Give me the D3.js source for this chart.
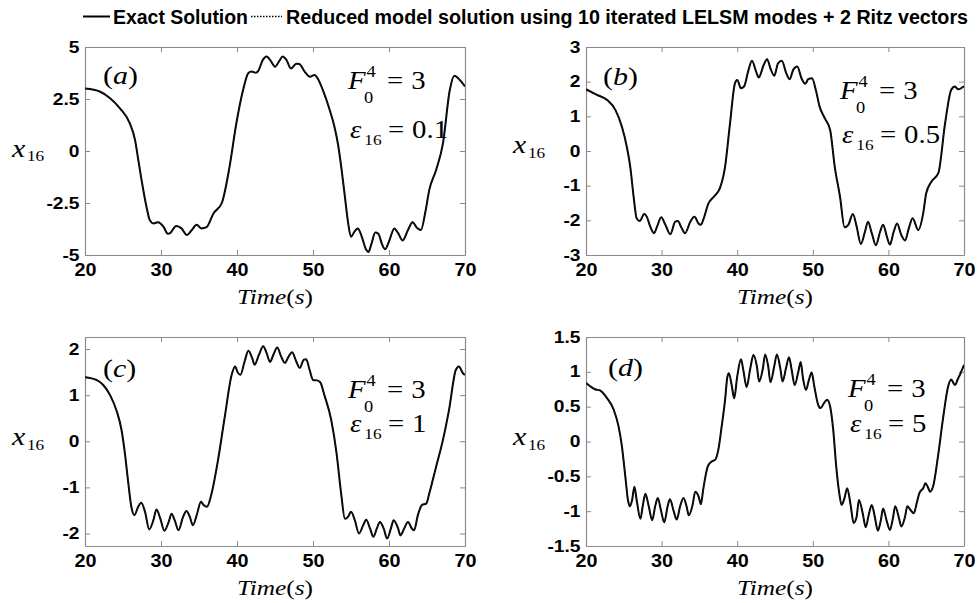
<!DOCTYPE html>
<html>
<head>
<meta charset="utf-8">
<script src="https://cdn.jsdelivr.net/npm/d3@7"></script>
<style>
  body { margin: 0; background: #fff; }
  svg { display: block; }
</style>
</head>
<body>
<svg id="chart" width="977" height="603"></svg>
<script>
// Values: [time (s), x16]
const panelA = [[20,3.0],[22,2.85],[23.3,2.54],[24.6,2.05],[25.9,1.33],[26.6,0.5],[27,-0.4],[27.4,-1.3],[28.1,-2.7],[28.5,-3.3],[29,-3.48],
  [29.6,-3.42],[30.3,-3.62],[30.9,-3.98],[31.2,-3.95],[32,-3.6],[32.7,-3.72],[33.4,-4.04],[34,-3.82],[34.7,-3.55],[35.3,-3.72],[36,-3.66],
  [36.9,-3.0],[38,-2.5],[39,-0.8],[39.9,1.3],[40.8,2.93],[41.5,3.75],[41.9,3.82],[42.5,3.76],[42.8,3.85],[43.4,4.38],[43.9,4.54],[44.5,4.3],
  [45,4.05],[45.6,4.35],[46,4.54],[46.5,4.38],[47.1,3.97],[47.8,4.2],[48.2,4.18],[48.9,3.82],[49.6,3.57],[50.2,3.65],[50.6,3.5],[51.3,2.93],
  [52.2,1.97],[52.8,1.2],[53.3,0.3],[53.8,-1.0],[54.2,-2.2],[54.6,-3.4],[55,-4.12],[55.5,-3.85],[55.9,-3.72],[56.4,-4.1],[57,-4.75],[57.3,-4.85],
  [57.7,-4.45],[58.2,-3.92],[58.6,-3.98],[59.1,-4.5],[59.5,-4.72],[60,-4.35],[60.7,-3.72],[61.2,-3.95],[61.8,-4.3],[62.5,-3.8],[63.1,-3.42],
  [63.7,-3.7],[64.2,-3.8],[64.8,-2.9],[65.3,-1.87],[66.2,-0.91],[67.1,0.37],[68,2.93],[68.6,3.62],[69.1,3.5],[70,3.1]];

const panelB = [[20,1.78],[21.45,1.62],[22.8,1.47],[23.9,1.18],[24.75,0.7],[25.4,0.12],[25.85,-0.45],[26.3,-1.32],[26.7,-1.94],[27.1,-2.02],
  [27.7,-1.82],[28.05,-1.9],[28.5,-2.18],[29,-2.37],[29.4,-2.18],[29.95,-1.91],[30.5,-2.13],[31.15,-2.4],[31.8,-2.04],[32.15,-2.02],[32.6,-2.2],
  [33.1,-2.37],[33.8,-2.04],[34.35,-1.9],[34.9,-2.1],[35.2,-2.13],[35.5,-1.99],[36.2,-1.51],[36.9,-1.32],[37.7,-1.08],[38.4,-0.45],[39.05,0.8],
  [39.7,1.95],[40,2.05],[40.5,1.81],[40.9,1.86],[41.5,2.34],[41.95,2.6],[42.5,2.29],[42.85,2.12],[43.5,2.48],[43.95,2.65],[44.4,2.38],[44.9,2.17],
  [45.4,2.53],[45.9,2.6],[46.5,2.24],[46.95,2.07],[47.4,2.34],[47.95,2.44],[48.5,2.1],[49,1.94],[49.4,2.07],[49.9,2.1],[50.4,1.76],[50.9,1.28],
  [51.6,0.94],[52.3,0.6],[52.9,-0.45],[53.6,-1.32],[54.2,-2.2],[54.7,-2.13],[55.3,-1.82],[55.8,-2.18],[56.35,-2.68],[56.9,-2.33],[57.3,-2.04],
  [57.8,-2.37],[58.35,-2.72],[58.9,-2.33],[59.3,-2.13],[59.8,-2.47],[60.2,-2.7],[60.7,-2.33],[61.15,-2.09],[61.7,-2.42],[62.2,-2.58],[62.7,-2.23],
  [63.2,-1.94],[63.95,-2.28],[64.6,-1.8],[65,-1.22],[65.7,-0.88],[66.6,-0.64],[67.5,0.8],[68.3,1.76],[68.8,1.86],[69.2,1.78],[70,1.87]];

const panelC = [[20,1.39],[21.5,1.33],[22.4,1.22],[23.3,1.0],[24.2,0.64],[24.8,0.25],[25.25,-0.26],[25.7,-0.91],[26.1,-1.42],[26.5,-1.6],
  [27,-1.42],[27.4,-1.33],[27.9,-1.53],[28.45,-1.91],[29,-1.71],[29.4,-1.48],[29.9,-1.67],[30.45,-1.94],[31,-1.75],[31.4,-1.57],[31.8,-1.71],
  [32.3,-1.93],[32.9,-1.64],[33.35,-1.51],[33.8,-1.64],[34.2,-1.82],[34.75,-1.57],[35.25,-1.31],[35.6,-1.38],[36.05,-1.42],[36.6,-1.17],
  [37.5,-0.41],[38.4,0.54],[39.3,1.44],[39.75,1.62],[40.1,1.49],[40.45,1.44],[41,1.73],[41.5,1.96],[42,1.8],[42.3,1.66],[42.9,1.88],[43.45,2.06],
  [43.9,1.91],[44.35,1.72],[44.8,1.88],[45.3,2.03],[45.8,1.84],[46.3,1.7],[46.8,1.84],[47.25,1.93],[47.8,1.73],[48.25,1.59],[48.8,1.77],
  [49.1,1.78],[49.55,1.55],[50,1.33],[50.5,1.32],[50.95,1.28],[51.5,1.0],[52.4,0.46],[53.1,-0.26],[53.7,-1.13],[54.2,-1.68],[54.6,-1.64],
  [55,-1.53],[55.5,-1.71],[56.05,-2.0],[56.6,-1.82],[57,-1.7],[57.5,-1.89],[57.95,-2.07],[58.4,-1.89],[58.8,-1.75],[59.3,-1.89],[59.75,-2.11],
  [60.3,-1.86],[60.6,-1.71],[61.2,-1.89],[61.5,-2.04],[62,-1.89],[62.5,-1.75],[63,-1.89],[63.3,-1.93],[63.8,-1.6],[64.35,-1.38],[64.9,-1.35],
  [65.3,-1.13],[66.2,-0.55],[67.1,0.03],[67.9,0.68],[68.8,1.55],[69.2,1.62],[69.7,1.48],[70,1.44]];

const panelD = [[20,0.84],[20.6,0.79],[21.2,0.75],[21.9,0.73],[22.8,0.62],[23.65,0.46],[24.3,0.22],[24.75,-0.07],[25.2,-0.5],[25.55,-0.84],
  [25.8,-0.93],[26.1,-0.84],[26.4,-0.65],[26.7,-0.84],[27.2,-1.11],[27.5,-0.93],[27.85,-0.75],[28.3,-0.93],[28.75,-1.13],[29.15,-0.93],
  [29.5,-0.81],[29.9,-0.98],[30.35,-1.16],[30.8,-0.93],[31.1,-0.83],[31.6,-1.0],[32,-1.12],[32.45,-0.93],[32.9,-0.81],[33.3,-0.93],[33.6,-1.06],
  [34.1,-0.91],[34.45,-0.72],[34.9,-0.79],[35.2,-0.9],[35.5,-0.69],[36.1,-0.36],[36.6,-0.29],[37.1,-0.26],[37.5,-0.12],[37.95,0.22],[38.4,0.6],
  [38.7,0.93],[38.9,0.98],[39.3,0.79],[39.6,0.62],[40,0.93],[40.5,1.18],[40.8,1.03],[41.25,0.78],[41.7,1.03],[42.15,1.24],[42.6,1.08],[42.9,0.86],
  [43.4,1.05],[43.7,1.25],[44.1,1.08],[44.4,0.85],[44.9,1.08],[45.25,1.25],[45.7,1.05],[46,0.86],[46.45,1.05],[46.85,1.21],[47.2,1.03],[47.6,0.81],
  [48.1,1.01],[48.4,1.14],[48.7,0.91],[49.1,0.74],[49.5,0.89],[49.85,0.99],[50.2,0.79],[50.7,0.53],[51,0.48],[51.6,0.57],[51.9,0.6],[52.3,0.5],
  [52.7,0.17],[53.1,-0.36],[53.5,-0.74],[53.8,-0.91],[54.2,-0.81],[54.55,-0.67],[55,-0.91],[55.4,-1.17],[55.8,-1.08],[56.1,-0.84],[56.6,-1.03],
  [57,-1.23],[57.4,-1.05],[57.8,-0.91],[58.2,-1.08],[58.6,-1.28],[59,-1.13],[59.3,-0.96],[59.75,-1.13],[60.2,-1.27],[60.6,-1.1],[60.9,-0.93],
  [61.4,-1.1],[61.7,-1.22],[62.2,-1.08],[62.5,-0.93],[62.9,-0.98],[63.35,-1.03],[63.8,-0.86],[64.1,-0.74],[64.6,-0.67],[64.9,-0.6],[65.2,-0.65],
  [65.5,-0.72],[65.9,-0.65],[66.55,-0.22],[67.2,0.31],[67.9,0.79],[68.3,0.89],[68.8,0.81],[69.2,0.9],[69.55,0.98],[70,1.1]];

// The reduced model curve lies on top of the exact one everywhere in the figure
const reducedA = panelA, reducedB = panelB, reducedC = panelC, reducedD = panelD;

// Axis ticks and labels
const xTicks = [20, 30, 40, 50, 60, 70];
const yTicksA = [-5, -2.5, 0, 2.5, 5];
const yTicksB = [-3, -2, -1, 0, 1, 2, 3];
const yTicksC = [-2, -1, 0, 1, 2];
const yTicksD = [-1.5, -1, -0.5, 0, 0.5, 1, 1.5];
const yDomains = [[-5, 5], [-3, 3], [-2.27, 2.26], [-1.5, 1.5]];
const letters = ["a", "b", "c", "d"];
const epsValues = ["0.1", "0.5", "1", "5"];
const forceValue = "3";
const legendLabels = ["Exact Solution", "Reduced model solution using 10 iterated LELSM modes + 2 Ritz vectors"];

const serif = "'Liberation Serif', 'Times New Roman', serif";
const sans = "'Liberation Sans', Arial, sans-serif";
const boxColor = "#8a8a8a";
const stretch = 1.15;   // the figure is a bit wider than tall

const svg = d3.select("#chart");

// Legend
const legend = svg.append("g");
legend.append("line").attr("x1", 83).attr("x2", 110).attr("y1", 16.5).attr("y2", 16.5)
    .attr("stroke", "#000").attr("stroke-width", 2);
legend.append("text").attr("x", 113).attr("y", 24)
    .attr("font-family", sans).attr("font-weight", "bold").attr("font-size", 19.5)
    .attr("textLength", 135).attr("lengthAdjust", "spacingAndGlyphs")
    .text(legendLabels[0]);
legend.append("line").attr("x1", 251).attr("x2", 282).attr("y1", 16.5).attr("y2", 16.5)
    .attr("stroke", "#000").attr("stroke-width", 1.5).attr("stroke-dasharray", "1.5,1.5");
legend.append("text").attr("x", 286).attr("y", 24)
    .attr("font-family", sans).attr("font-weight", "bold").attr("font-size", 19.5)
    .attr("textLength", 682).attr("lengthAdjust", "spacingAndGlyphs")
    .text(legendLabels[1]);

// Panel layout (pixels)
const panels = [
    { exact: panelA, reduced: reducedA, yTicks: yTicksA, left: 85, top: 47, right: 465, bottom: 255, letterDx: 18, letterY: 84, eqDx: 263, fY: 89, epsY: 138, labelY: 156.5 },
    { exact: panelB, reduced: reducedB, yTicks: yTicksB, left: 586, top: 47, right: 964, bottom: 255, letterDx: 17, letterY: 85, eqDx: 254, fY: 99, epsY: 143, labelY: 153 },
    { exact: panelC, reduced: reducedC, yTicks: yTicksC, left: 85, top: 337, right: 465, bottom: 546, letterDx: 18, letterY: 376.5, eqDx: 263, fY: 398, epsY: 432, labelY: 445 },
    { exact: panelD, reduced: reducedD, yTicks: yTicksD, left: 586, top: 337, right: 964, bottom: 546, letterDx: 22, letterY: 376, eqDx: 262, fY: 397, epsY: 432, labelY: 445 }
];

panels.forEach((p, i) => {
    const x = d3.scaleLinear().domain([20, 70]).range([p.left, p.right]);
    const y = d3.scaleLinear().domain(yDomains[i]).range([p.bottom, p.top]);
    const g = svg.append("g");

    // clip the curves to the axes box
    const clipId = "clip" + i;
    g.append("clipPath").attr("id", clipId).append("rect")
        .attr("x", p.left).attr("y", p.top)
        .attr("width", p.right - p.left).attr("height", p.bottom - p.top);

    // Axes: ticks inside on all four sides, like MATLAB
    const bottomAxis = g.append("g").attr("transform", `translate(0,${p.bottom})`)
        .call(d3.axisBottom(x).tickValues(xTicks).tickSize(-5).tickSizeOuter(0).tickPadding(8).tickFormat(d => String(d)));
    const topAxis = g.append("g").attr("transform", `translate(0,${p.top})`)
        .call(d3.axisTop(x).tickValues(xTicks).tickSize(-5).tickSizeOuter(0).tickFormat(""));
    const leftAxis = g.append("g").attr("transform", `translate(${p.left},0)`)
        .call(d3.axisLeft(y).tickValues(p.yTicks).tickSize(-5).tickSizeOuter(0).tickPadding(4.6).tickFormat(d => String(d)));
    const rightAxis = g.append("g").attr("transform", `translate(${p.right},0)`)
        .call(d3.axisRight(y).tickValues(p.yTicks).tickSize(-5).tickSizeOuter(0).tickFormat(""));

    [bottomAxis, topAxis, leftAxis, rightAxis].forEach(ax => {
        ax.select(".domain").attr("stroke", boxColor).attr("stroke-width", 1.2);
        ax.selectAll(".tick line").attr("stroke", boxColor).attr("stroke-width", 1);
    });
    bottomAxis.selectAll("text")
        .attr("font-family", sans).attr("font-weight", "bold").attr("font-size", 18)
        .attr("fill", "#000").attr("transform", "scale(1.1,1)");
    leftAxis.selectAll("text")
        .attr("font-family", sans).attr("font-weight", "bold").attr("font-size", 16)
        .attr("fill", "#000").attr("transform", "scale(1.2,1)");

    // Curves
    const line = d3.line()
        .x(d => x(d[0]))
        .y(d => y(d[1]))
        .curve(d3.curveMonotoneX);

    g.append("path")
        .datum(p.exact)
        .attr("clip-path", `url(#${clipId})`)
        .attr("fill", "none").attr("stroke", "#000").attr("stroke-width", 2)
        .attr("stroke-linejoin", "round")
        .attr("d", line);

    g.append("path")
        .datum(p.reduced)
        .attr("clip-path", `url(#${clipId})`)
        .attr("fill", "none").attr("stroke", "#222").attr("stroke-width", 1)
        .attr("stroke-dasharray", "1.5,1.5")
        .attr("d", line);

    // Panel letter, e.g. "(a)"
    const letter = g.append("g")
        .attr("transform", `translate(${p.left + p.letterDx},${p.letterY}) scale(${stretch},1)`)
        .append("text").attr("font-family", serif).attr("font-size", 26);
    letter.append("tspan").text("(");
    letter.append("tspan").attr("font-style", "italic").text(letters[i]);
    letter.append("tspan").text(")");

    // F_0^4 = 3
    const fq = g.append("g")
        .attr("transform", `translate(${p.left + p.eqDx},${p.fY}) scale(${stretch},1)`)
        .attr("font-family", serif);
    fq.append("text").attr("font-size", 25).attr("font-style", "italic").text("F");
    fq.append("text").attr("x", 16).attr("y", -12).attr("font-size", 16).text("4");
    fq.append("text").attr("x", 14).attr("y", 14).attr("font-size", 16).text("0");
    fq.append("text").attr("x", 34).attr("font-size", 25).text("=");
    fq.append("text").attr("x", 55).attr("font-size", 25).text(forceValue);

    // epsilon_16 = value
    const eq = g.append("g")
        .attr("transform", `translate(${p.left + p.eqDx + 2},${p.epsY}) scale(${stretch},1)`)
        .attr("font-family", serif);
    eq.append("text").attr("font-size", 25).attr("font-style", "italic").text("\u03B5");
    eq.append("text").attr("x", 12.5).attr("y", 7).attr("font-size", 15).text("16");
    eq.append("text").attr("x", 33).attr("font-size", 25).text("=");
    eq.append("text").attr("x", 54).attr("font-size", 25).text(epsValues[i]);

    // y label x_16
    const yl = g.append("g")
        .attr("transform", `translate(${p.left - 73},${p.labelY}) scale(${stretch},1)`)
        .attr("font-family", serif);
    yl.append("text").attr("font-size", 26).attr("font-style", "italic").text("x");
    yl.append("text").attr("x", 13).attr("y", 4.5).attr("font-size", 15).text("16");

    // x label Time(s)
    const xl = g.append("g")
        .attr("transform", `translate(${(p.left + p.right) / 2},${p.bottom + 49}) scale(${stretch},1)`)
        .append("text").attr("font-family", serif).attr("font-size", 22).attr("text-anchor", "middle");
    xl.append("tspan").attr("font-style", "italic").text("Time");
    xl.append("tspan").text("(");
    xl.append("tspan").attr("font-style", "italic").text("s");
    xl.append("tspan").text(")");
});
</script>
</body>
</html>
